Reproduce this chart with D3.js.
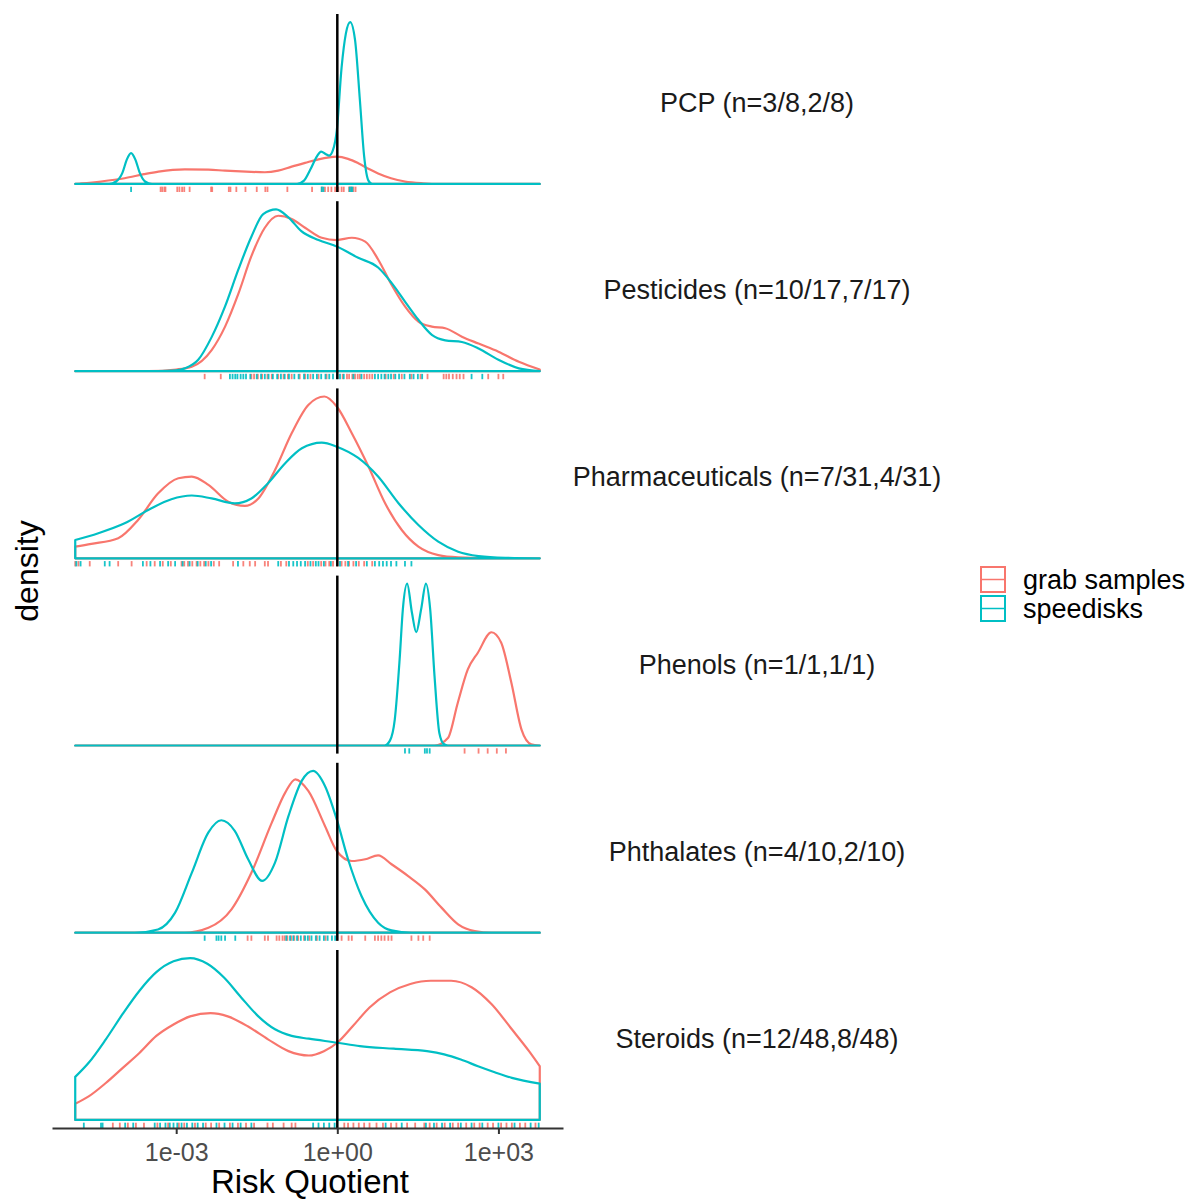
<!DOCTYPE html>
<html>
<head>
<meta charset="utf-8">
<script src="https://cdn.jsdelivr.net/npm/d3@7"></script>
<style>
  html, body { margin: 0; padding: 0; background: #fff; }
  svg { display: block; font-family: "Liberation Sans", Arial, sans-serif; }
</style>
</head>
<body>
<svg id="chart" width="1195" height="1199"></svg>
<script>
// ---------------- data (x values are log10 of the Risk Quotient) ----------------
const categories = [
  "PCP (n=3/8,2/8)",
  "Pesticides (n=10/17,7/17)",
  "Pharmaceuticals (n=7/31,4/31)",
  "Phenols (n=1/1,1/1)",
  "Phthalates (n=4/10,2/10)",
  "Steroids (n=12/48,8/48)"
];
const groups = ["grab samples", "speedisks"];
const xTickValues = [1e-3, 1, 1e3];
const xTickLabels = ["1e-03", "1e+00", "1e+03"];
const xRangeLog10 = [-4.88, 3.77];

// density curves: [log10 RQ, relative density]
const pcpGrab = [[-4.88,0],[-4.77,0.003],[-4.4,0.015],[-3.96,0.035],[-3.6,0.06],[-3.33,0.076],[-2.84,0.09],[-2.4,0.088],[-2.09,0.082],[-1.7,0.076],[-1.35,0.072],[-1.1,0.082],[-0.85,0.107],[-0.6,0.13],[-0.35,0.152],[-0.01,0.168],[0.2,0.155],[0.39,0.128],[0.6,0.09],[0.76,0.065],[1.0,0.035],[1.26,0.015],[1.6,0.004],[1.88,0],[3.77,0]];
const pcpSpeed = [[-4.88,0],[-4.25,0],[-4.12,0.015],[-4.0,0.07],[-3.92,0.15],[-3.84,0.19],[-3.76,0.15],[-3.68,0.07],[-3.58,0.015],[-3.45,0],[-0.75,0],[-0.62,0.02],[-0.5,0.09],[-0.38,0.17],[-0.3,0.2],[-0.22,0.185],[-0.15,0.175],[-0.08,0.21],[-0.01,0.33],[0.08,0.72],[0.16,0.93],[0.24,1.0],[0.33,0.89],[0.42,0.52],[0.5,0.17],[0.58,0.02],[0.65,0],[3.77,0]];
const pestGrab = [[-4.88,0],[-3.52,0],[-3.0,0.01],[-2.71,0.027],[-2.34,0.13],[-2.09,0.275],[-1.84,0.48],[-1.6,0.71],[-1.35,0.886],[-1.1,0.96],[-0.85,0.94],[-0.6,0.886],[-0.29,0.824],[-0.01,0.81],[0.27,0.824],[0.52,0.8],[0.76,0.69],[1.01,0.534],[1.26,0.4],[1.51,0.306],[1.76,0.275],[2.01,0.265],[2.32,0.213],[2.63,0.17],[3.0,0.12],[3.38,0.058],[3.77,0.01]];
const pestSpeed = [[-4.88,0],[-3.34,0],[-3.0,0.005],[-2.84,0.017],[-2.59,0.07],[-2.34,0.21],[-2.09,0.4],[-1.84,0.63],[-1.6,0.83],[-1.38,0.97],[-1.14,1.0],[-0.91,0.95],[-0.67,0.865],[-0.35,0.81],[-0.01,0.77],[0.39,0.7],[0.76,0.64],[1.01,0.545],[1.26,0.43],[1.51,0.317],[1.76,0.224],[2.01,0.19],[2.32,0.18],[2.63,0.14],[3.0,0.07],[3.38,0.017],[3.77,0]];
const pharmGrab = [[-4.88,0.072],[-4.58,0.089],[-4.08,0.124],[-3.71,0.237],[-3.34,0.4],[-2.96,0.495],[-2.71,0.505],[-2.4,0.454],[-2.03,0.35],[-1.72,0.324],[-1.47,0.37],[-1.16,0.546],[-0.85,0.773],[-0.54,0.948],[-0.24,1.0],[-0.01,0.938],[0.27,0.773],[0.58,0.567],[0.89,0.34],[1.2,0.175],[1.51,0.072],[1.88,0.02],[2.25,0.006],[3.0,0],[3.77,0]];
const pharmSpeed = [[-4.88,0.113],[-4.45,0.155],[-3.96,0.216],[-3.46,0.31],[-3.09,0.365],[-2.71,0.388],[-2.34,0.37],[-1.91,0.34],[-1.6,0.37],[-1.29,0.464],[-0.97,0.588],[-0.66,0.68],[-0.29,0.715],[-0.01,0.69],[0.39,0.62],[0.76,0.505],[1.14,0.34],[1.51,0.206],[1.88,0.103],[2.25,0.041],[2.63,0.014],[3.13,0.003],[3.77,0]];
const phenGrab = [[-4.88,0],[1.81,0],[2.06,0.046],[2.24,0.26],[2.43,0.47],[2.62,0.575],[2.87,0.7],[3.05,0.637],[3.24,0.39],[3.43,0.098],[3.61,0.008],[3.77,0]];
const phenSpeed = [[-4.88,0],[0.88,0],[0.98,0.03],[1.07,0.16],[1.16,0.53],[1.22,0.84],[1.3,1.0],[1.39,0.82],[1.47,0.7],[1.56,0.84],[1.65,1.0],[1.73,0.84],[1.81,0.43],[1.9,0.077],[1.98,0.01],[2.06,0],[3.77,0]];
const phthGrab = [[-4.88,0],[-2.84,0],[-2.4,0.03],[-1.97,0.144],[-1.6,0.37],[-1.22,0.68],[-0.97,0.866],[-0.78,0.948],[-0.54,0.876],[-0.23,0.66],[-0.01,0.505],[0.27,0.443],[0.52,0.454],[0.76,0.478],[1.01,0.423],[1.32,0.35],[1.63,0.268],[1.94,0.155],[2.25,0.052],[2.56,0.01],[2.87,0],[3.77,0]];
const phthSpeed = [[-4.88,0],[-3.77,0],[-3.34,0.02],[-3.02,0.124],[-2.71,0.37],[-2.4,0.62],[-2.16,0.695],[-1.91,0.63],[-1.66,0.454],[-1.4,0.32],[-1.16,0.433],[-0.91,0.72],[-0.66,0.94],[-0.45,1.0],[-0.23,0.907],[-0.01,0.7],[0.2,0.454],[0.45,0.227],[0.76,0.062],[1.01,0.014],[1.38,0],[3.77,0]];
const sterGrab = [[-4.88,0.10],[-4.63,0.145],[-4.31,0.228],[-4.0,0.32],[-3.68,0.415],[-3.37,0.519],[-3.05,0.59],[-2.74,0.64],[-2.36,0.66],[-2.04,0.64],[-1.66,0.577],[-1.29,0.498],[-0.91,0.425],[-0.53,0.398],[-0.25,0.425],[0,0.477],[0.29,0.58],[0.6,0.695],[0.98,0.788],[1.36,0.84],[1.74,0.86],[2.12,0.86],[2.5,0.82],[2.87,0.716],[3.25,0.56],[3.57,0.425],[3.77,0.332]];
const sterSpeed = [[-4.88,0.266],[-4.63,0.353],[-4.31,0.498],[-4.0,0.653],[-3.68,0.8],[-3.37,0.913],[-3.05,0.98],[-2.74,1.0],[-2.42,0.965],[-2.11,0.88],[-1.79,0.757],[-1.48,0.643],[-1.16,0.56],[-0.85,0.519],[-0.53,0.502],[0,0.477],[0.42,0.456],[1.05,0.44],[1.67,0.425],[1.99,0.405],[2.3,0.373],[2.62,0.332],[2.93,0.295],[3.25,0.26],[3.77,0.224]];

// rug observations (log10 RQ)
const pcpGrabRug = [-3.29,-3.26,-3.22,-3.2,-2.98,-2.94,-2.89,-2.85,-2.75,-2.35,-2.33,-2.02,-1.99,-1.88,-1.71,-1.5,-1.34,-1.3,-0.93,-0.47,-0.29,-0.23,-0.17,-0.11,-0.04,0.02,0.08,0.12,0.22,0.25,0.3,0.34];
const pcpSpeedRug = [-3.84,-0.29,-0.26,0.23,0.26,0.28];
const pestGrabRug = [-2.47,-2.17,-1.6,-1.55,-1.48,-1.4,-1.3,-1.22,-1.1,-1.0,-0.92,-0.85,-0.7,-0.6,-0.5,-0.35,-0.2,0.1,0.18,0.22,0.28,0.33,0.38,0.42,0.5,0.55,0.6,0.65,0.9,1.05,1.2,1.38,1.55,1.68,1.98,2.03,2.08,2.15,2.22,2.28,2.35,2.81,3.0,3.09];
const pestSpeedRug = [-2.0,-1.95,-1.9,-1.86,-1.8,-1.75,-1.7,-1.62,-1.5,-1.42,-1.35,-1.28,-1.2,-1.12,-1.05,-0.98,-0.9,-0.8,-0.72,-0.62,-0.55,-0.45,-0.38,-0.3,-0.22,-0.15,-0.08,0.0,0.05,0.12,0.3,0.45,0.7,0.76,0.82,0.88,0.95,1.0,1.08,1.15,1.25,1.35,1.42,1.5,1.58,2.5,2.7];
const pharmGrabRug = [-4.88,-4.82,-4.61,-4.08,-3.83,-3.55,-3.4,-3.25,-3.1,-2.9,-2.85,-2.78,-2.7,-2.62,-2.55,-2.48,-2.4,-2.3,-2.2,-1.94,-1.75,-1.63,-1.53,-1.35,-1.29,-1.05,-0.95,-0.55,-0.45,-0.3,-0.22,-0.15,-0.08,0.0,0.08,0.15,0.22,0.3,0.4,0.5,0.65];
const pharmSpeedRug = [-4.86,-4.78,-4.33,-4.24,-3.62,-3.48,-3.3,-3.15,-3.02,-2.88,-2.75,-2.6,-2.45,-2.35,-1.85,-1.1,-0.9,-0.82,-0.75,-0.68,-0.6,-0.5,-0.4,-0.35,-0.25,-0.12,0.05,0.2,0.35,0.55,0.7,0.78,0.85,0.92,1.0,1.1,1.26,1.38];
const phenGrabRug = [2.37,2.63,2.8,2.97,3.14];
const phenSpeedRug = [1.26,1.34,1.63,1.67,1.72];
const phthGrabRug = [-1.67,-1.6,-1.35,-1.29,-1.13,-1.08,-1.02,-0.98,-0.93,-0.86,-0.8,-0.73,-0.62,-0.52,-0.38,-0.22,0.0,0.08,0.21,0.27,0.52,0.7,0.76,0.82,0.88,0.95,1.01,1.38,1.51,1.6,1.72];
const phthSpeedRug = [-2.47,-2.25,-2.21,-2.16,-2.09,-1.9,-0.95,-0.88,-0.82,-0.75,-0.68,-0.6,-0.55,-0.48,-0.4,-0.33,-0.25,-0.18,-0.1,-0.04];
const sterGrabRug = [-4.18,-4.05,-3.9,-3.75,-3.6,-3.35,-3.15,-2.95,-2.85,-2.65,-2.45,-2.35,-2.2,-2.0,-1.85,-1.7,-1.55,-1.3,-1.2,-1.0,-0.85,-0.78,0.13,0.2,0.3,0.4,0.5,0.6,0.73,0.85,1.0,1.1,1.3,1.45,1.62,1.72,1.85,2.0,2.15,2.25,2.4,2.55,2.65,2.8,2.9,3.05,3.15,3.25,3.4,3.5,3.69];
const sterSpeedRug = [-4.72,-4.4,-4.37,-3.95,-3.8,-3.4,-3.3,-3.2,-3.12,-3.05,-2.98,-2.9,-2.8,-2.7,-2.6,-2.5,-2.25,-2.1,-1.95,-1.8,-1.6,-0.45,-0.35,-0.25,-0.15,-0.05,0.9,1.2,1.65,1.8,1.95,2.1,2.3,2.5,2.7,3.0,3.3,3.6,3.75];

const densities = [[pcpGrab, pcpSpeed],[pestGrab, pestSpeed],[pharmGrab, pharmSpeed],[phenGrab, phenSpeed],[phthGrab, phthSpeed],[sterGrab, sterSpeed]];
const rugs = [[pcpGrabRug, pcpSpeedRug],[pestGrabRug, pestSpeedRug],[pharmGrabRug, pharmSpeedRug],[phenGrabRug, phenSpeedRug],[phthGrabRug, phthSpeedRug],[sterGrabRug, sterSpeedRug]];

// ---------------- layout ----------------
const colors = ["#F8766D", "#00BFC4"];
const svg = d3.select("#chart");
const panelLeft = 52, panelRight = 563;
const panelTop0 = 14, panelH = 178, panelGap = 9.2;

const span = xRangeLog10[1] - xRangeLog10[0];
const x = d3.scaleLog()
  .domain([Math.pow(10, xRangeLog10[0] - 0.05 * span), Math.pow(10, xRangeLog10[1] + 0.05 * span)])
  .range([panelLeft, panelRight]);
const xv = v => x(Math.pow(10, v));

categories.forEach((cat, i) => {
  const top = panelTop0 + i * (panelH + panelGap);
  const bottom = top + panelH;
  const maxD = d3.max(densities[i].flat(), d => d[1]);
  const y = d3.scaleLinear().domain([-0.05 * maxD, 1.05 * maxD]).range([bottom, top]);
  const g = svg.append("g");

  const line = d3.line().x(d => xv(d[0])).y(d => y(d[1])).curve(d3.curveMonotoneX);

  densities[i].forEach((pts, gi) => {
    const x0 = xv(pts[0][0]), x1 = xv(pts[pts.length - 1][0]), yb = y(0);
    const p = "M" + x0 + "," + yb + line(pts).replace(/^M/, "L") + "L" + x1 + "," + yb + "Z";
    g.append("path").attr("d", p)
      .attr("fill", "none").attr("stroke", colors[gi])
      .attr("stroke-width", 2.2).attr("stroke-linejoin", "round");
  });

  const rugLen = 0.03 * panelH;
  rugs[i].forEach((vals, gi) => {
    g.selectAll(null).data(vals).enter().append("line")
      .attr("x1", d => xv(d)).attr("x2", d => xv(d))
      .attr("y1", bottom).attr("y2", bottom - rugLen)
      .attr("stroke", colors[gi]).attr("stroke-width", 1.8).attr("opacity", 0.9);
  });

  g.append("line")
    .attr("x1", x(1)).attr("x2", x(1)).attr("y1", top).attr("y2", bottom)
    .attr("stroke", "#000").attr("stroke-width", 2.5);

  svg.append("text")
    .attr("x", 757).attr("y", (top + bottom) / 2)
    .attr("text-anchor", "middle").attr("dominant-baseline", "central")
    .attr("font-size", 27).attr("fill", "#1a1a1a").text(cat);
});

// x axis
const axisY = panelTop0 + 6 * panelH + 5 * panelGap;
const axis = d3.axisBottom(x).tickValues(xTickValues)
  .tickFormat((d, i) => xTickLabels[i]).tickSizeInner(6).tickSizeOuter(0).tickPadding(9);
const ax = svg.append("g").attr("transform", "translate(0," + axisY + ")").call(axis);
ax.select(".domain").attr("stroke", "#333").attr("stroke-width", 2);
ax.selectAll(".tick line").attr("stroke", "#333").attr("stroke-width", 2);
ax.selectAll(".tick text").attr("font-size", 25).attr("fill", "#4d4d4d")
  .attr("font-family", "Liberation Sans, Arial, sans-serif");

svg.append("text").attr("x", 310).attr("y", 1193)
  .attr("text-anchor", "middle").attr("font-size", 33).attr("fill", "#000").text("Risk Quotient");
svg.append("text")
  .attr("transform", "translate(27," + ((panelTop0 + axisY) / 2) + ") rotate(-90)")
  .attr("text-anchor", "middle").attr("dominant-baseline", "central")
  .attr("font-size", 32).attr("fill", "#000").text("density");

// legend
const legY = [567, 596];
groups.forEach((grp, gi) => {
  const lg = svg.append("g");
  lg.append("rect").attr("x", 981).attr("y", legY[gi]).attr("width", 24).attr("height", 25)
    .attr("fill", "#fff").attr("stroke", colors[gi]).attr("stroke-width", 2);
  lg.append("line").attr("x1", 981).attr("x2", 1005)
    .attr("y1", legY[gi] + 12.5).attr("y2", legY[gi] + 12.5)
    .attr("stroke", colors[gi]).attr("stroke-width", 1.5);
  lg.append("text").attr("x", 1023).attr("y", legY[gi] + 13)
    .attr("dominant-baseline", "central").attr("font-size", 27).attr("fill", "#000").text(grp);
});
</script>
</body>
</html>
